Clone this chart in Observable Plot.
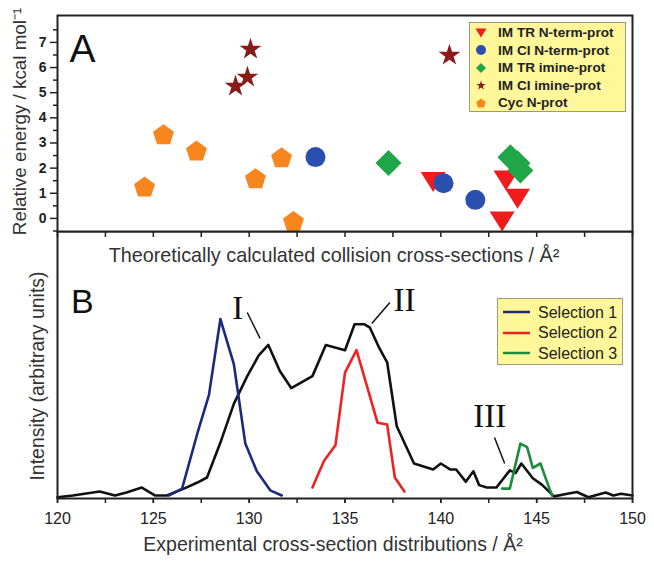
<!DOCTYPE html>
<html><head><meta charset="utf-8">
<script src="https://cdn.jsdelivr.net/npm/d3@7"></script>
<script src="https://cdn.jsdelivr.net/npm/@observablehq/plot@0.6"></script>
<style>
body{margin:0;background:#fff;font-family:"Liberation Sans",Arial,sans-serif;}
#wrap{position:relative;width:654px;height:562px;overflow:hidden;background:#fff;}
#wrap > svg{position:absolute;left:0;}
.leg{position:absolute;background:#fff799;border:1px solid #9a9a80;box-sizing:border-box;}
.leg svg{position:absolute;overflow:visible;}
.leg span{position:absolute;color:#222;white-space:nowrap;}
</style></head><body><div id="wrap"></div>
<script>
// ---------- Panel A data (theoretical CCS vs relative energy) ----------
const seriesNames = ["IM TR N-term-prot", "IM CI N-term-prot", "IM TR imine-prot", "IM CI imine-prot", "Cyc N-prot"];
const seriesColors = ["#ee1c1c", "#2a4fae", "#1fa648", "#8b1a1a", "#f7861e"];
const triX = [139.6, 143.2, 143.4, 144.0];
const triY = [1.45, -0.12, 1.51, 0.78];
const circX = [133.46, 140.14, 141.8];
const circY = [2.44, 1.40, 0.74];
const diaX = [137.27, 143.63, 144.0, 144.15];
const diaY = [2.2, 2.43, 2.19, 1.91];
const starX = [130.07, 129.91, 129.29, 140.45];
const starY = [6.77, 5.66, 5.3, 6.53];
const pentX = [124.54, 125.53, 127.25, 130.33, 131.69, 132.31];
const pentY = [1.27, 3.35, 2.7, 1.6, 2.43, -0.1];
const energyTicks = [0, 1, 2, 3, 4, 5, 6, 7];

// ---------- Panel B data (experimental distributions) ----------
const ccsTicks = [120, 125, 130, 135, 140, 145, 150];
const blackX = [120, 120.8, 122.2, 123.0, 123.6, 124.4, 125.1, 125.7, 126.6, 127.3, 127.8, 128.5, 129.2, 129.9, 130.5, 131.0, 131.6, 132.2, 133.3, 134.0, 135.0, 135.5, 136.0, 136.3, 136.8, 137.2, 137.7, 138.6, 139.6, 140.0, 140.5, 140.8, 141.3, 141.7, 142.0, 142.4, 142.9, 143.6, 143.9, 144.2, 144.8, 145.3, 145.9, 146.6, 147.1, 147.7, 148.6, 149.0, 149.4, 150];
const blackY = [-1, 0, 2.3, 0, 1.7, 4.6, 0, 0, 4, 7.5, 10.4, 30.6, 53, 69, 81, 87, 72, 62, 69, 87, 84, 99, 99, 97, 85, 77, 40, 18.5, 15, 18.5, 15, 15, 8, 14, 6, 4.6, 4.6, 14.5, 13, 18.5, 10, 6, -0.5, 1, 2, -1, 1.7, 0, 1, 0];
const sel1X = [125.8, 126.5, 127.3, 127.9, 128.5, 129.2, 129.8, 130.4, 131.1, 131.7];
const sel1Y = [0, 4, 36, 58, 102, 76, 30, 14, 3, 0];
const sel2X = [133.3, 133.9, 134.5, 135.0, 135.6, 136.1, 136.7, 137.2, 137.6, 138.1];
const sel2Y = [4.6, 20, 29, 71, 84, 65, 42, 41, 10.4, 2.3];
const sel3X = [143.2, 143.6, 144.15, 144.5, 144.8, 145.2, 145.5, 145.8];
const sel3Y = [4, 4, 30, 28, 16, 18.5, 9, 0];
const selNames = ["Selection 1", "Selection 2", "Selection 3"];
const selColors = ["#1c2a7e", "#ee2222", "#1b8c3c"];
const annLabels = ["I", "II", "III"];
const annX = [129.4, 138.1, 142.55];
const annY = [108, 112.7, 45.7];
const annX1 = [129.9, 137.34, 142.8];
const annY1 = [105.8, 111.6, 33.5];
const annX2 = [130.57, 136.4, 143.33];
const annY2 = [90.8, 99.4, 18.5];

// ---------- custom symbols ----------
function poly(ctx, pts) { ctx.moveTo(pts[0][0], pts[0][1]); for (let i = 1; i < pts.length; i++) ctx.lineTo(pts[i][0], pts[i][1]); ctx.closePath(); }
const symTriDown = {draw(ctx, size) { const r = Math.sqrt(size / Math.PI), h = 1.6 * r; poly(ctx, [[-r, -h / 2], [r, -h / 2], [0, h / 2]]); }};
const symPent = {draw(ctx, size) { const R = Math.sqrt(size / Math.PI), o = 0.095 * R; poly(ctx, d3.range(5).map(k => { const a = -Math.PI / 2 + k * 2 * Math.PI / 5; return [R * Math.cos(a), R * Math.sin(a) + o]; })); }};
const symStar = {draw(ctx, size) { const R = Math.sqrt(size / Math.PI), o = 0.095 * R; poly(ctx, d3.range(10).map(k => { const a = -Math.PI / 2 + k * Math.PI / 5, rr = k % 2 ? 0.382 * R : R; return [rr * Math.cos(a), rr * Math.sin(a) + o]; })); }};
const symDiamond = {draw(ctx, size) { const R = Math.sqrt(size / Math.PI); poly(ctx, [[0, -R], [R, 0], [0, R], [-R, 0]]); }};
const symCircle = {draw(ctx, size) { const R = Math.sqrt(size / Math.PI); ctx.moveTo(R, 0); ctx.arc(0, 0, R, 0, 2 * Math.PI); }};
const seriesSyms = [symTriDown, symCircle, symDiamond, symStar, symPent];

const idx = a => d3.range(a.length);
const font = "'Liberation Sans', Arial, sans-serif";
const xMinor = d3.range(120, 150.01, 2.5);

function dots(X, Y, k, r) {
  return Plot.dot(idx(X), {x: i => X[i], y: i => Y[i], symbol: seriesSyms[k], r, fill: seriesColors[k], stroke: "none"});
}

const chartA = Plot.plot({
  width: 654, height: 240,
  marginTop: 15, marginBottom: 9, marginLeft: 57, marginRight: 22,
  x: {domain: [120, 150]},
  y: {domain: [-0.52, 8.07]},
  style: {background: "transparent", fontFamily: font, color: "#222"},
  marks: [
    Plot.axisX({ticks: xMinor, tickSize: 6, tickFormat: () => "", label: null, strokeWidth: 1.5}),
    Plot.axisY({ticks: d3.range(-0.5, 8, 1), tickSize: 4, tickFormat: () => "", label: null, strokeWidth: 1.5}),
    Plot.axisY({ticks: energyTicks, tickSize: 7, tickPadding: 4, fontSize: 14, fontWeight: "bold", label: null, strokeWidth: 1.5}),
    dots(triX, triY, 0, 12.5),
    dots(circX, circY, 1, 10),
    dots(diaX, diaY, 2, 13),
    dots(starX, starY, 3, 11.5),
    dots(pentX, pentY, 4, 11),
    Plot.text(["A"], {x: 121.3, y: 6.72, text: d => d, fontSize: 39, fill: "#111"}),
    Plot.text(["Relative energy / kcal mol\u207B\u00B9"], {text: d => d, frameAnchor: "left", textAnchor: "middle", lineAnchor: "middle", dx: -38, dy: -2, rotate: -90, fontSize: 18.8, fill: "#333"}),
    Plot.frame({stroke: "#222", strokeWidth: 2})
  ]
});
chartA.style.top = "0px"; chartA.style.zIndex = 2;

const chartB = Plot.plot({
  width: 654, height: 331,
  marginTop: 0, marginBottom: 64, marginLeft: 57, marginRight: 22,
  x: {domain: [120, 150]},
  y: {domain: [-1.73, 152.6], axis: null},
  style: {background: "transparent", fontFamily: font, color: "#222"},
  marks: [
    Plot.axisX({ticks: xMinor, tickSize: 5, tickFormat: () => "", label: null, strokeWidth: 1.5}),
    Plot.axisX({ticks: ccsTicks, tickSize: 5, tickPadding: 9, fontSize: 16, label: null, strokeWidth: 1.5}),
    Plot.line(idx(blackX), {x: i => blackX[i], y: i => blackY[i], stroke: "#111", strokeWidth: 2.6}),
    Plot.line(idx(sel1X), {x: i => sel1X[i], y: i => sel1Y[i], stroke: selColors[0], strokeWidth: 2.6}),
    Plot.line(idx(sel2X), {x: i => sel2X[i], y: i => sel2Y[i], stroke: selColors[1], strokeWidth: 2.6}),
    Plot.line(idx(sel3X), {x: i => sel3X[i], y: i => sel3Y[i], stroke: selColors[2], strokeWidth: 2.6}),
    Plot.link(idx(annX1), {x1: i => annX1[i], y1: i => annY1[i], x2: i => annX2[i], y2: i => annY2[i], stroke: "#111", strokeWidth: 1.5}),
    Plot.text(idx(annLabels), {x: i => annX[i], y: i => annY[i], text: i => annLabels[i], fontSize: 33, fontFamily: "'Liberation Serif', 'Times New Roman', serif", fill: "#111"}),
    Plot.text(["B"], {x: 121.3, y: 111.6, text: d => d, fontSize: 34, fill: "#111"}),
    Plot.text(["Theoretically calculated collision cross-sections / \u00C5\u00B2"], {text: d => d, frameAnchor: "top", textAnchor: "middle", lineAnchor: "middle", dy: 24, dx: -11, fontSize: 19.8, fill: "#333"}),
    Plot.text(["Experimental cross-section distributions / \u00C5\u00B2"], {text: d => d, frameAnchor: "bottom", textAnchor: "middle", lineAnchor: "middle", dy: 46, dx: -12, fontSize: 19.5, fill: "#333"}),
    Plot.text(["Intensity (arbitrary units)"], {text: d => d, frameAnchor: "left", textAnchor: "middle", lineAnchor: "middle", dx: -20, dy: 11, rotate: -90, fontSize: 19.5, fill: "#333"}),
    Plot.frame({stroke: "#222", strokeWidth: 2})
  ]
});
chartB.style.top = "231px"; chartB.style.zIndex = 1;

const wrap = document.getElementById("wrap");
wrap.appendChild(chartB);
wrap.appendChild(chartA);

// ---------- legends ----------
const legA = d3.select(wrap).append("div").attr("class", "leg")
  .style("left", "469px").style("top", "22px").style("width", "157px").style("height", "90px").style("z-index", 3);
seriesNames.forEach((name, k) => {
  const cy = 9.5 + k * 17.6;
  const s = legA.append("svg").attr("width", 14).attr("height", 14)
    .style("left", (11 - 7) + "px").style("top", (cy - 7) + "px");
  s.append("path").attr("transform", "translate(7,7)")
    .attr("d", d3.symbol(seriesSyms[k], Math.PI * (k === 0 ? 5.5 : 5) ** 2)())
    .attr("fill", seriesColors[k]);
  legA.append("span").text(name).style("left", "28px").style("top", (cy - 8.5) + "px")
    .style("font-size", "13.6px").style("font-weight", "bold").style("line-height", "17px");
});

const legB = d3.select(wrap).append("div").attr("class", "leg")
  .style("left", "497px").style("top", "298px").style("width", "126px").style("height", "67px").style("z-index", 3);
selNames.forEach((name, k) => {
  const cy = 13 + k * 20.5;
  const s = legB.append("svg").attr("width", 30).attr("height", 6)
    .style("left", "4px").style("top", (cy - 3) + "px");
  s.append("line").attr("x1", 1).attr("x2", 28).attr("y1", 3).attr("y2", 3)
    .attr("stroke", selColors[k]).attr("stroke-width", 2.5);
  legB.append("span").text(name).style("left", "40px").style("top", (cy - 9.5) + "px")
    .style("font-size", "16px").style("line-height", "19px");
});
</script></body></html>
